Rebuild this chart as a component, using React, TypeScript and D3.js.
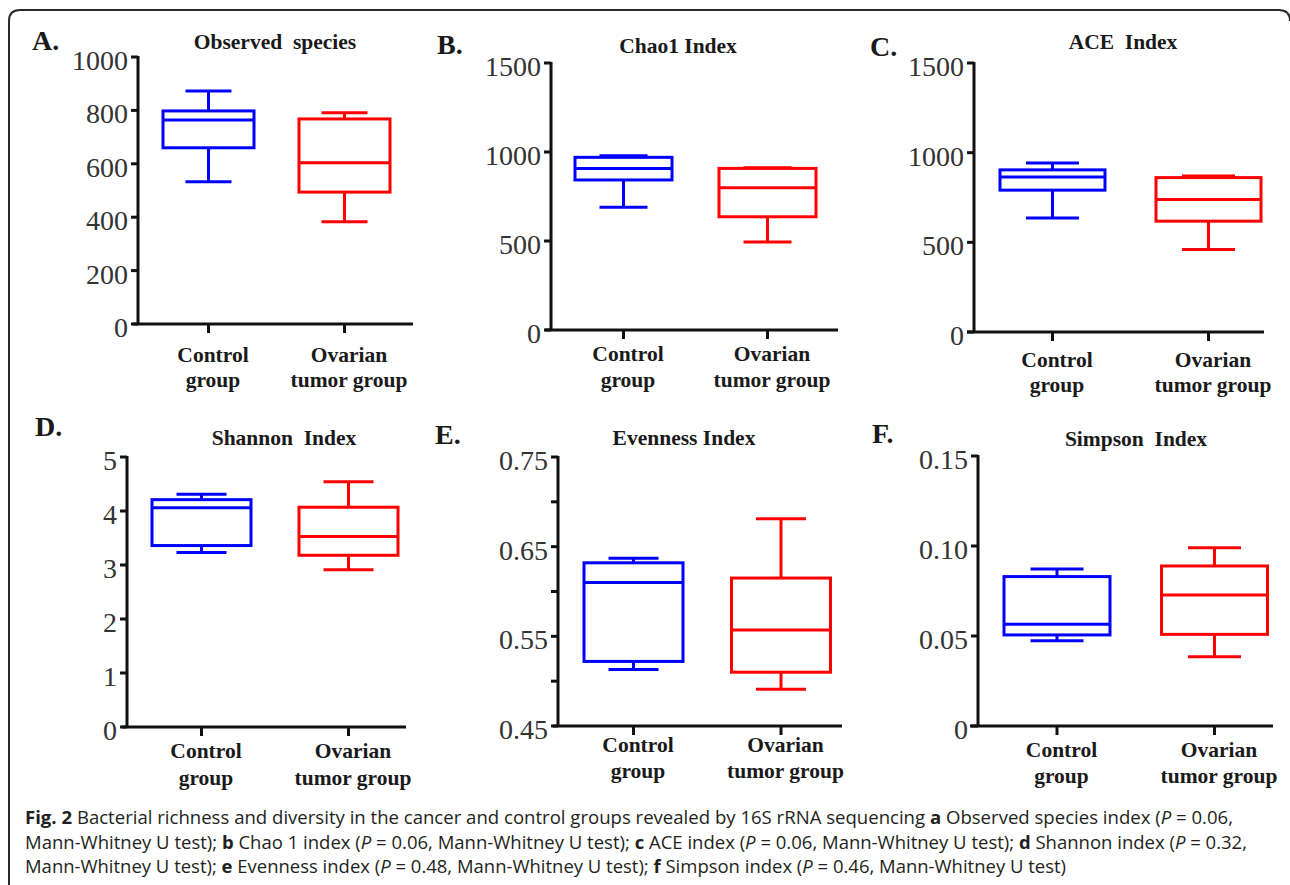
import React from "react";
import * as d3 from "d3";

// ---------- data ----------
const categories = ["Control group", "Ovarian tumor group"];
const categoryLines = [["Control", "group"], ["Ovarian", "tumor group"]];
const seriesColors = ["#0000ff", "#ff0000"];

const panelLetters = ["A.", "B.", "C.", "D.", "E.", "F."];
const panelTitles = ["Observed  species", "Chao1 Index", "ACE  Index", "Shannon  Index", "Evenness Index", "Simpson  Index"];

// five-number summaries: [min, q1, median, q3, max]
const controlStats = [
  [533, 660, 764, 798, 873],
  [689, 843, 908, 970, 979],
  [636, 791, 865, 904, 943],
  [3.23, 3.36, 4.06, 4.21, 4.31],
  [0.513, 0.522, 0.61, 0.632, 0.637],
  [0.0474, 0.0506, 0.0565, 0.083, 0.0872],
];
const tumorStats = [
  [383, 494, 604, 768, 791],
  [494, 636, 799, 908, 912],
  [460, 618, 739, 861, 870],
  [2.91, 3.18, 3.53, 4.07, 4.54],
  [0.491, 0.51, 0.557, 0.615, 0.681],
  [0.0385, 0.0509, 0.0728, 0.0889, 0.099],
];

const yDomains = [[0, 1000], [0, 1500], [0, 1500], [0, 5], [0.45, 0.75], [0, 0.15]];
const yTicks = [
  [0, 200, 400, 600, 800, 1000],
  [0, 500, 1000, 1500],
  [0, 500, 1000, 1500],
  [0, 1, 2, 3, 4, 5],
  [0.45, 0.55, 0.65, 0.75],
  [0, 0.05, 0.1, 0.15],
];
const yTickLabels = [
  ["0", "200", "400", "600", "800", "1000"],
  ["0", "500", "1000", "1500"],
  ["0", "500", "1000", "1500"],
  ["0", "1", "2", "3", "4", "5"],
  ["0.45", "0.55", "0.65", "0.75"],
  ["0", "0.05", "0.10", "0.15"],
];
const yMinorTicks = [[], [], [], [], [0.5, 0.6, 0.7], []];

// ---------- layout (pixels) ----------
const layout = [
  { ax: 138, top: 57, bottom: 324, xs: 133, xe: 413, c: [208.5, 344.5], bh: 45.5, ch: 23, tx: 275, ty: 49, lx: 32, ly: 50, l1: 362, l2: 387 },
  { ax: 551, top: 63, bottom: 330, xs: 545, xe: 838, c: [623.5, 767.5], bh: 48.5, ch: 24, tx: 678, ty: 53, lx: 437, ly: 54, l1: 361, l2: 387 },
  { ax: 974, top: 63, bottom: 332, xs: 967, xe: 1264, c: [1052.5, 1208.5], bh: 52.5, ch: 26.5, tx: 1123, ty: 49, lx: 870, ly: 56, l1: 367, l2: 392 },
  { ax: 127, top: 457, bottom: 727, xs: 122, xe: 406, c: [201.5, 348.5], bh: 49.5, ch: 25, tx: 284, ty: 445, lx: 35, ly: 436, l1: 758, l2: 785 },
  { ax: 558, top: 457, bottom: 726, xs: 553, xe: 842, c: [633.5, 781], bh: 49.5, ch: 25, tx: 684, ty: 445, lx: 435, ly: 444, l1: 752, l2: 778 },
  { ax: 978, top: 456, bottom: 726, xs: 970, xe: 1273, c: [1057, 1214.5], bh: 53, ch: 26.5, tx: 1136, ty: 446, lx: 872, ly: 443, l1: 757, l2: 783 },
];

const SERIF = "'Liberation Serif', 'Times New Roman', serif";
const SANS = "'Open Sans', 'Noto Sans', sans-serif";

function Panel({ i }: { i: number }) {
  const L = layout[i];
  const y = d3.scaleLinear().domain(yDomains[i]).range([L.bottom, L.top]);
  const x = d3.scalePoint<string>().domain(categories).range([L.c[0], L.c[1]]);
  const stats = [controlStats[i], tumorStats[i]];
  const sw = 3;
  return (
    <g>
      <text x={L.lx} y={L.ly} fontFamily={SERIF} fontWeight="bold" fontSize={28} fill="#1a1a1a">
        {panelLetters[i]}
      </text>
      <text x={L.tx} y={L.ty} textAnchor="middle" fontFamily={SERIF} fontWeight="bold" fontSize={21.5} fill="#1a1a1a" style={{ whiteSpace: "pre" }}>
        {panelTitles[i]}
      </text>
      {/* boxes */}
      {categories.map((cat, k) => {
        const cx = x(cat) as number;
        const [mn, q1, md, q3, mx] = stats[k];
        const col = seriesColors[k];
        return (
          <g key={cat} stroke={col} strokeWidth={sw} fill="none">
            <line x1={cx} x2={cx} y1={y(mx)} y2={y(q3)} />
            <line x1={cx} x2={cx} y1={y(q1)} y2={y(mn)} />
            <line x1={cx - L.ch} x2={cx + L.ch} y1={y(mx)} y2={y(mx)} />
            <line x1={cx - L.ch} x2={cx + L.ch} y1={y(mn)} y2={y(mn)} />
            <rect x={cx - L.bh} y={y(q3)} width={2 * L.bh} height={y(q1) - y(q3)} />
            <line x1={cx - L.bh} x2={cx + L.bh} y1={y(md)} y2={y(md)} />
          </g>
        );
      })}
      {/* axes */}
      <g stroke="#111" strokeWidth={sw} fill="none">
        <line x1={L.ax} x2={L.ax} y1={L.top - 1} y2={L.bottom} />
        <line x1={L.xs} x2={L.xe} y1={L.bottom} y2={L.bottom} />
        {yTicks[i].map((t) => (
          <line key={"t" + t} x1={L.ax - 7} x2={L.ax} y1={y(t)} y2={y(t)} />
        ))}
        {yMinorTicks[i].map((t) => (
          <line key={"m" + t} x1={L.ax - 7} x2={L.ax} y1={y(t)} y2={y(t)} />
        ))}
        {categories.map((cat) => (
          <line key={cat} x1={x(cat) as number} x2={x(cat) as number} y1={L.bottom} y2={L.bottom + 9} />
        ))}
      </g>
      {yTicks[i].map((t, k) => (
        <text key={"l" + t} x={L.ax - 10} y={y(t) + 13} textAnchor="end" fontFamily={SERIF} fontSize={28} fill="#333">
          {yTickLabels[i][k]}
        </text>
      ))}
      {categories.map((cat, k) => (
        <text key={"c" + cat} textAnchor="middle" fontFamily={SERIF} fontWeight="bold" fontSize={21.5} fill="#1a1a1a" style={{ whiteSpace: "pre" }}>
          <tspan x={(x(cat) as number) + 4.5} y={L.l1}>{categoryLines[k][0]}</tspan>
          <tspan x={(x(cat) as number) + 4.5} y={L.l2}>{categoryLines[k][1]}</tspan>
        </text>
      ))}
    </g>
  );
}

export default function App() {
  return (
    <svg width={1290} height={885} style={{ position: "absolute", left: 0, top: 0, display: "block", background: "#fff" }}>
      <rect x={0} y={0} width={1290} height={885} fill="#fff" />
      <path d="M9,886 L9,21 Q9,10 20,10 L1279,10 Q1290,10 1290,21" fill="none" stroke="#2a2a2a" strokeWidth={2} />
      {layout.map((_, i) => (
        <Panel key={i} i={i} />
      ))}
      <g fontFamily={SANS} fontSize={18} fill="#231f20" style={{ whiteSpace: "pre" }}>
        <text x={25} y={824} textLength={1208} lengthAdjust="spacingAndGlyphs">
          <tspan fontWeight="bold">Fig. 2</tspan>
          <tspan> Bacterial richness and diversity in the cancer and control groups revealed by 16S rRNA sequencing </tspan>
          <tspan fontWeight="bold">a</tspan>
          <tspan> Observed species index (</tspan>
          <tspan fontStyle="italic">P</tspan>
          <tspan> = 0.06,</tspan>
        </text>
        <text x={25} y={848.5} textLength={1222} lengthAdjust="spacingAndGlyphs">
          <tspan>Mann-Whitney U test); </tspan>
          <tspan fontWeight="bold">b</tspan>
          <tspan> Chao 1 index (</tspan>
          <tspan fontStyle="italic">P</tspan>
          <tspan> = 0.06, Mann-Whitney U test); </tspan>
          <tspan fontWeight="bold">c</tspan>
          <tspan> ACE index (</tspan>
          <tspan fontStyle="italic">P</tspan>
          <tspan> = 0.06, Mann-Whitney U test); </tspan>
          <tspan fontWeight="bold">d</tspan>
          <tspan> Shannon index (</tspan>
          <tspan fontStyle="italic">P</tspan>
          <tspan> = 0.32,</tspan>
        </text>
        <text x={25} y={873} textLength={1041} lengthAdjust="spacingAndGlyphs">
          <tspan>Mann-Whitney U test); </tspan>
          <tspan fontWeight="bold">e</tspan>
          <tspan> Evenness index (</tspan>
          <tspan fontStyle="italic">P</tspan>
          <tspan> = 0.48, Mann-Whitney U test); </tspan>
          <tspan fontWeight="bold">f</tspan>
          <tspan> Simpson index (</tspan>
          <tspan fontStyle="italic">P</tspan>
          <tspan> = 0.46, Mann-Whitney U test)</tspan>
        </text>
      </g>
    </svg>
  );
}
